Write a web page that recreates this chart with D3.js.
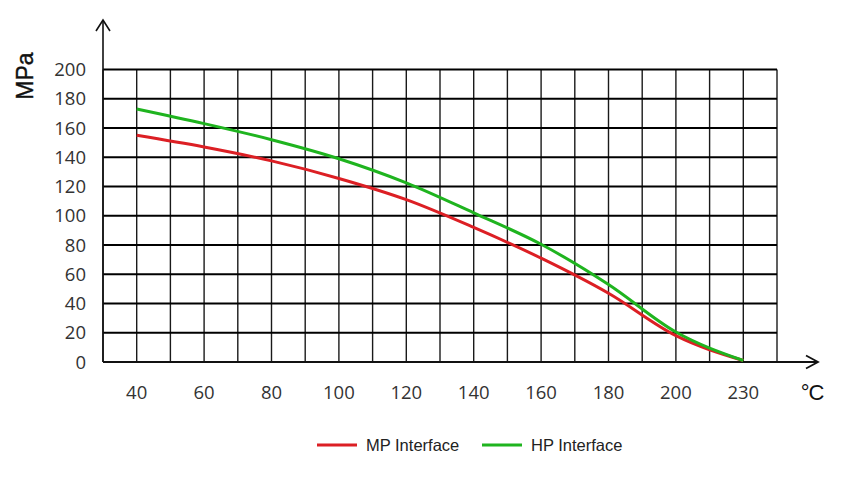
<!DOCTYPE html>
<html>
<head>
<meta charset="utf-8">
<script src="https://cdn.jsdelivr.net/npm/d3@7"></script>
<style>
  body { margin: 0; background: #fff; }
  svg { display: block; }
</style>
</head>
<body>
<svg id="chart" width="856" height="478"></svg>
<script>
// temperature categories (°C) and strength values (MPa)
const temps = [40, 60, 80, 100, 120, 140, 160, 180, 200, 230];
const mpValues = [155, 147, 137.5, 125.5, 111, 92, 71, 47, 18, 1];
const hpValues = [173, 163, 152, 139, 122.5, 102, 80.5, 53, 20.5, 1];
const yTicks = [0, 20, 40, 60, 80, 100, 120, 140, 160, 180, 200];
const seriesNames = ["MP Interface", "HP Interface"];

const svg = d3.select("#chart");
const plotLeft = 103, plotRight = 777, plotTop = 69.5, plotBottom = 362;

const xScale = d3.scaleBand().domain(temps).range([plotLeft, plotRight]).padding(0);
const bw = xScale.bandwidth();
const xMid = (d) => xScale(d) + bw / 2;
const yScale = d3.scaleLinear().domain([0, 200]).range([plotBottom, plotTop]);
const colorScale = d3.scaleOrdinal().domain(seriesNames).range(["#dc1f24", "#1fb41f"]);

// vertical grid: band edges and band centres
const vLines = [];
temps.forEach((t) => { vLines.push(xScale(t)); vLines.push(xMid(t)); });
vLines.push(plotRight);
svg.append("g")
  .selectAll("line")
  .data(vLines)
  .enter()
  .append("line")
  .attr("x1", (d) => d).attr("x2", (d) => d)
  .attr("y1", plotTop).attr("y2", plotBottom)
  .attr("stroke", "#1a1a1a")
  .attr("stroke-width", 1.4);

// horizontal grid
svg.append("g")
  .selectAll("line")
  .data(yTicks)
  .enter()
  .append("line")
  .attr("x1", plotLeft).attr("x2", plotRight)
  .attr("y1", (d) => yScale(d)).attr("y2", (d) => yScale(d))
  .attr("stroke", "#000")
  .attr("stroke-width", 2);

// y axis labels
svg.append("g")
  .selectAll("text")
  .data(yTicks)
  .enter()
  .append("text")
  .attr("x", 86)
  .attr("y", (d) => yScale(d))
  .attr("dy", "0.36em")
  .attr("text-anchor", "end")
  .style("font", "18.5px 'Open Sans'")
  .style("fill", "#333")
  .text((d) => d);

// x axis labels
svg.append("g")
  .selectAll("text")
  .data(temps)
  .enter()
  .append("text")
  .attr("x", (d) => xMid(d))
  .attr("y", 392)
  .attr("dy", "0.36em")
  .attr("text-anchor", "middle")
  .style("font", "18.5px 'Open Sans'")
  .style("fill", "#333")
  .text((d) => d);

// axes with arrows
const axisG = svg.append("g").attr("stroke", "#111").attr("fill", "none");
axisG.append("line").attr("x1", plotLeft).attr("x2", plotLeft).attr("y1", 20).attr("y2", plotBottom).attr("stroke-width", 1.6);
axisG.append("path").attr("d", `M${plotLeft - 7},31 L${plotLeft},20 L${plotLeft + 7},31`).attr("stroke-width", 1.6);
axisG.append("line").attr("x1", plotLeft).attr("x2", 818).attr("y1", plotBottom).attr("y2", plotBottom).attr("stroke-width", 2);
axisG.append("path").attr("d", `M806,${plotBottom - 6.5} L818,${plotBottom} L806,${plotBottom + 6.5}`).attr("stroke-width", 1.8);

// axis titles
svg.append("text")
  .attr("transform", "translate(25,76) rotate(-90)")
  .attr("text-anchor", "middle")
  .attr("dy", "0.35em")
  .style("font", "23px 'Liberation Sans'")
  .style("fill", "#111")
  .style("stroke", "#111")
  .style("stroke-width", 0.4)
  .text("MPa");
svg.append("text")
  .attr("x", 812)
  .attr("y", 400)
  .attr("text-anchor", "middle")
  .style("font", "22px 'Liberation Sans'")
  .style("letter-spacing", "-1px")
  .style("fill", "#111")
  .text("°C");

// series lines
const series = [
  { name: seriesNames[0], values: mpValues },
  { name: seriesNames[1], values: hpValues },
];
const line = d3.line()
  .x((d, i) => xMid(temps[i]))
  .y((d) => yScale(d))
  .curve(d3.curveMonotoneX);
svg.append("g")
  .selectAll("path")
  .data(series)
  .enter()
  .append("path")
  .attr("fill", "none")
  .attr("stroke", (d) => colorScale(d.name))
  .attr("stroke-width", 3)
  .attr("stroke-linejoin", "round")
  .attr("d", (d) => line(d.values));

// legend
const legendX = [317, 482];
const legend = svg.append("g")
  .selectAll("g")
  .data(seriesNames)
  .enter()
  .append("g")
  .attr("transform", (d, i) => `translate(${legendX[i]},445)`);
legend.append("line")
  .attr("x1", 0).attr("x2", 40)
  .attr("stroke", colorScale)
  .attr("stroke-width", 3);
legend.append("text")
  .attr("x", 49)
  .attr("dy", "0.36em")
  .style("font", "16.5px 'Liberation Sans'")
  .style("fill", "#222")
  .text((d) => d);
</script>
</body>
</html>
